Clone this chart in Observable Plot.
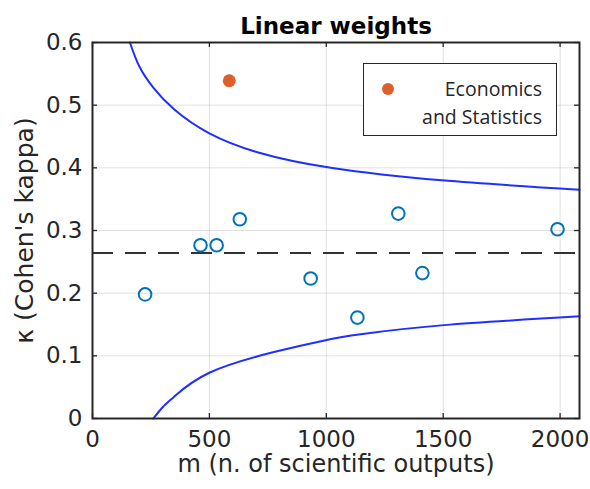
<!DOCTYPE html>
<html>
<head>
<meta charset="utf-8">
<script src="https://cdn.jsdelivr.net/npm/d3@7"></script>
<script src="https://cdn.jsdelivr.net/npm/@observablehq/plot@0.6"></script>
<style>
  html, body { margin: 0; padding: 0; background: #fff; }
  #wrap { position: relative; width: 590px; height: 489px; }
  #legend {
    position: absolute; left: 363px; top: 63px; width: 192px; height: 71px;
    border: 1.3px solid #262626; background: #fff;
    font-family: "Open Sans", Lato, sans-serif; font-size: 19.5px; color: #262626;
  }
  #legend .txt { position: absolute; right: 14px; top: 11px; text-align: right; line-height: 28px; white-space: nowrap; }
  #legend .dot { position: absolute; left: 18px; top: 19px; width: 12px; height: 12px; border-radius: 50%; background: #DE5F2C; }
</style>
</head>
<body>
<div id="wrap"></div>
<script>
// ---- data ----
const xTicks = [0, 500, 1000, 1500, 2000];
const yTicks = [0, 0.1, 0.2, 0.3, 0.4, 0.5, 0.6];
const mValues = [225, 462, 531, 630, 933, 1133, 1308, 1411, 1989];
const kappaValues = [0.198, 0.2765, 0.2765, 0.318, 0.2234, 0.161, 0.327, 0.232, 0.302];
const econM = [585];
const econKappa = [0.539];
const meanKappa = [0.264];
const upperM = [160, 200, 260, 350, 500, 713, 1019, 1494, 2083];
const upperKappa = [0.6, 0.562, 0.528, 0.493, 0.455, 0.424, 0.400, 0.380, 0.365];
const lowerM = [260, 300, 348, 500, 776, 997, 1147, 1504, 2083];
const lowerKappa = [0, 0.018, 0.0345, 0.073, 0.106, 0.125, 0.1345, 0.149, 0.163];
const titleText = "Linear weights";
const xLabel = "m (n. of scientific outputs)";
const yLabel = "\u03BA (Cohen's kappa)";
const legendLabel = ["Economics", "and Statistics"];

const points = mValues.map((m, i) => ({m, k: kappaValues[i]}));
const econ = econM.map((m, i) => ({m, k: econKappa[i]}));
const upper = upperM.map((m, i) => ({m, k: upperKappa[i]}));
const lower = lowerM.map((m, i) => ({m, k: lowerKappa[i]}));

const W = 590, H = 489, mL = 92, mR = 11, mT = 42, mB = 71;
const pw = W - mL - mR, ph = H - mT - mB, tl = 5;
const axisColor = "#262626";
const font = "DejaVu Sans, sans-serif";

const chart = Plot.plot({
  width: W, height: H,
  marginLeft: mL, marginRight: mR, marginTop: mT, marginBottom: mB,
  style: {fontFamily: font, background: "#fff", color: axisColor},
  x: {domain: [0, 2083]},
  y: {domain: [0, 0.6]},
  marks: [
    Plot.gridX(xTicks, {stroke: "#000", strokeOpacity: 0.12, strokeWidth: 1}),
    Plot.gridY(yTicks, {stroke: "#000", strokeOpacity: 0.12, strokeWidth: 1}),
    Plot.axisX(xTicks, {tickSize: 0, tickPadding: 12, fontSize: 23, tickFormat: d => String(d),
      label: null, fill: axisColor}),
    Plot.axisY(yTicks, {tickSize: 0, tickPadding: 10, fontSize: 23, tickFormat: d => d === 0 ? "0" : d3.format(".1f")(d),
      label: null, fill: axisColor}),
    Plot.text([xLabel], {frameAnchor: "bottom", dy: 46, lineAnchor: "middle", textAnchor: "middle", fontSize: 24, fill: axisColor}),
    Plot.text([yLabel], {frameAnchor: "left", dx: -68, rotate: -90, lineAnchor: "middle", textAnchor: "middle", fontSize: 25, fill: axisColor}),
    Plot.text([titleText], {frameAnchor: "top", dy: -25, fontWeight: "bold", fontSize: 23, fill: "#000"}),
    Plot.ruleY(meanKappa, {stroke: "#333", strokeWidth: 2, strokeDasharray: "21,12"}),
    Plot.line(upper, {x: "m", y: "k", stroke: "#1f2fff", strokeWidth: 2, curve: "natural"}),
    Plot.line(lower, {x: "m", y: "k", stroke: "#1f2fff", strokeWidth: 2, curve: "natural"}),
    Plot.dot(points, {x: "m", y: "k", r: 6.3, stroke: "#0072BD", strokeWidth: 2, fill: "none"}),
    Plot.dot(econ, {x: "m", y: "k", r: 6.5, fill: "#DE5F2C", stroke: "none"}),
    Plot.tickX(xTicks, {x: d => d, insetTop: ph - tl, stroke: axisColor, strokeWidth: 1.3}),
    Plot.tickX(xTicks, {x: d => d, insetBottom: ph - tl, stroke: axisColor, strokeWidth: 1.3}),
    Plot.tickY(yTicks, {y: d => d, insetRight: pw - tl, stroke: axisColor, strokeWidth: 1.3}),
    Plot.tickY(yTicks, {y: d => d, insetLeft: pw - tl, stroke: axisColor, strokeWidth: 1.3}),
    Plot.frame({stroke: axisColor, strokeWidth: 2})
  ]
});

const wrap = document.getElementById("wrap");
wrap.appendChild(chart);
const legend = document.createElement("div");
legend.id = "legend";
const dot = document.createElement("div");
dot.className = "dot";
const txt = document.createElement("div");
txt.className = "txt";
txt.innerHTML = legendLabel.join("<br>");
legend.appendChild(dot);
legend.appendChild(txt);
wrap.appendChild(legend);
</script>
</body>
</html>
